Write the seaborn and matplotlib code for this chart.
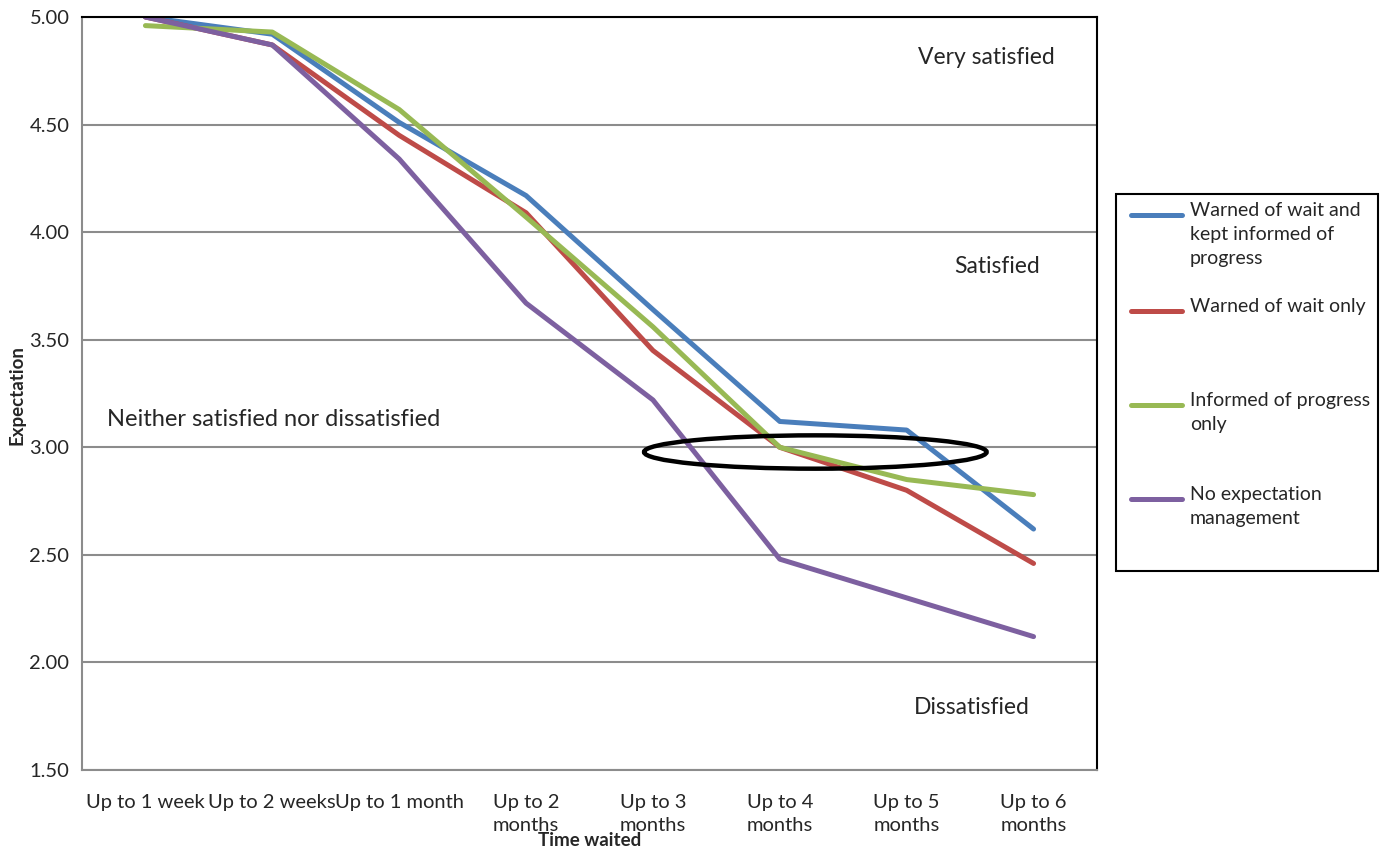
import matplotlib
matplotlib.use("Agg")
import matplotlib.pyplot as plt
from matplotlib.patches import Ellipse, Rectangle
from matplotlib.lines import Line2D
import seaborn as sns
import pandas as pd

# Wait-time buckets (tick labels) and the mean expectation score per group
categories = ["Up to 1 week", "Up to 2 weeks", "Up to 1 month", "Up to 2\nmonths",
              "Up to 3\nmonths", "Up to 4\nmonths", "Up to 5\nmonths", "Up to 6\nmonths"]
warned_and_informed = [5.00, 4.92, 4.51, 4.17, 3.64, 3.12, 3.08, 2.62]
warned_only = [5.00, 4.87, 4.45, 4.09, 3.45, 3.00, 2.80, 2.46]
informed_only = [4.96, 4.93, 4.57, 4.07, 3.56, 3.00, 2.85, 2.78]
no_management = [5.00, 4.87, 4.34, 3.67, 3.22, 2.48, 2.30, 2.12]

series_names = ["Warned of wait and\nkept informed of\nprogress", "Warned of wait only",
                "Informed of progress\nonly", "No expectation\nmanagement"]
series_values = [warned_and_informed, warned_only, informed_only, no_management]
colors = ["#4A7EBB", "#BE4B48", "#98B954", "#7D60A0"]

rows = []
for name, vals in zip(series_names, series_values):
    for cat, v in zip(categories, vals):
        rows.append({"Time waited": cat, "Expectation": v, "Group": name})
df = pd.DataFrame(rows)

sns.set_style("white")
plt.rcParams["font.family"] = ["Lato", "DejaVu Sans"]

fig = plt.figure(figsize=(13.85, 8.5), dpi=100)
ax = fig.add_axes([82 / 1385, 80 / 850, (1097 - 82) / 1385, (770 - 17) / 850])

sns.lineplot(data=df, x="Time waited", y="Expectation", hue="Group",
             palette=colors, hue_order=series_names, sort=False,
             linewidth=3.6, legend=False, ax=ax,
             solid_capstyle="round", solid_joinstyle="round")

ax.set_xlim(-0.5, len(categories) - 0.5)
ax.set_ylim(1.5, 5.0)
ax.set_yticks([1.5, 2.0, 2.5, 3.0, 3.5, 4.0, 4.5, 5.0])
ax.set_yticklabels([f"{t:.2f}" for t in ax.get_yticks()], fontsize=14.5)
ax.set_xticks(range(len(categories)))
ax.set_xticklabels(categories, fontsize=14.5, linespacing=1.45)
ax.set_xticks([i - 0.5 for i in range(len(categories) + 1)], minor=True)
ax.tick_params(axis="x", which="major", length=0, pad=17)
ax.tick_params(axis="x", which="minor", length=7, width=1.5, color="#8c8c8c")
ax.tick_params(axis="y", length=6, width=1.5, color="#8c8c8c", pad=3)

ax.grid(axis="y", color="#8c8c8c", linewidth=1.5)
ax.set_axisbelow(True)
for side in ["left", "bottom"]:
    ax.spines[side].set_color("#8c8c8c")
    ax.spines[side].set_linewidth(1.5)
for side in ["top", "right"]:
    ax.spines[side].set_color("black")
    ax.spines[side].set_linewidth(1.5)

ax.set_xlabel("Time waited", fontsize=13.5, fontweight="bold")
ax.set_ylabel("Expectation", fontsize=13.5, fontweight="bold")
ax.xaxis.label.set_va("center")
ax.yaxis.label.set_va("center")
ax.xaxis.set_label_coords(0.5, -(840 - 770) / 753)
ax.yaxis.set_label_coords(-(82 - 17) / 1015, (770 - 395) / 753)

# Satisfaction bands
ax.text(6.63, 4.81, "Very satisfied", fontsize=16.5, ha="center", va="center")
ax.text(6.71, 3.84, "Satisfied", fontsize=16.5, ha="center", va="center")
ax.text(-0.30, 3.13, "Neither satisfied nor dissatisfied", fontsize=17, ha="left", va="center")
ax.text(6.51, 1.79, "Dissatisfied", fontsize=16.5, ha="center", va="center")

# Highlight around the 3.00 crossing
ax.add_patch(Ellipse((5.28, 2.978), 2.70, 0.155, fill=False, edgecolor="black",
                     linewidth=3.2, zorder=5))

# Legend box
W, H = 1385, 850
fig.patches.append(Rectangle((1116 / W, 1 - 571 / H), 262 / W, 377 / H,
                             transform=fig.transFigure, fill=False,
                             edgecolor="black", linewidth=1.5))
entry_y = [215, 311, 405, 499]
for name, col, yy in zip(series_names, colors, entry_y):
    fig.lines.append(Line2D([1131 / W, 1182 / W], [1 - yy / H, 1 - yy / H],
                            transform=fig.transFigure, color=col, linewidth=3.6,
                            solid_capstyle="round"))
    fig.text(1190 / W, 1 - (yy - 13) / H, name, fontsize=14, ha="left", va="top",
             linespacing=1.5)

fig.savefig("out.png", dpi=100)
